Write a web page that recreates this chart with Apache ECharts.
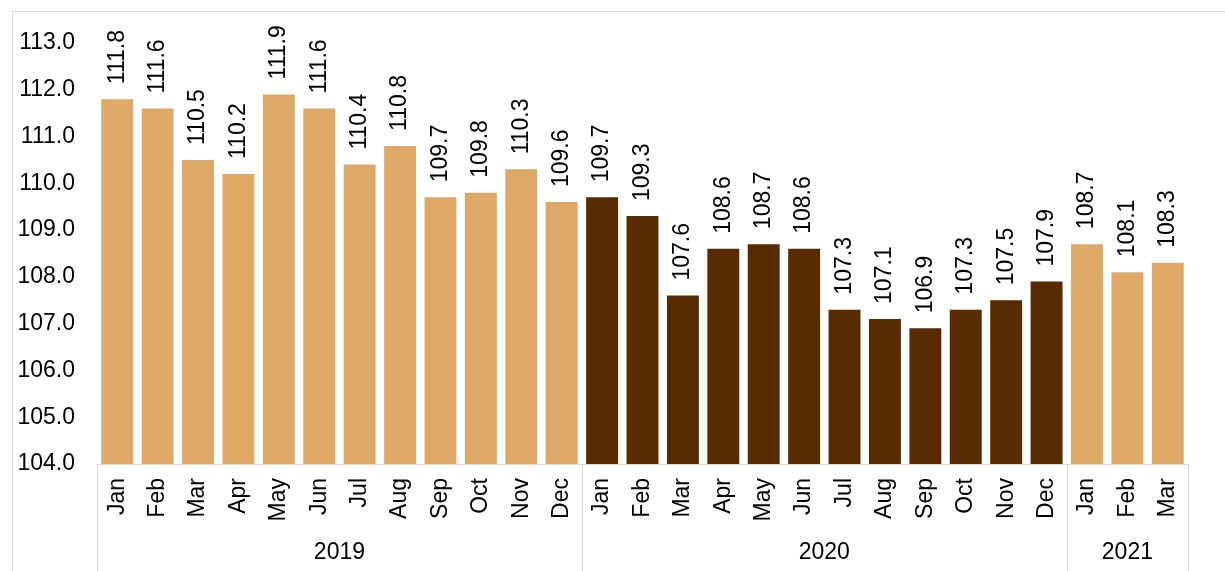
<!DOCTYPE html>
<html>
<head>
<meta charset="utf-8">
<script src="https://cdn.jsdelivr.net/npm/echarts@6/dist/echarts.min.js"></script>
<style>
  html, body { margin: 0; padding: 0; background: #fff; overflow: hidden; }
  .frame { position: absolute; left: 12px; top: 11px; width: 1400px; height: 800px; border: 1px solid #d9d9d9; }
  #chart { position: absolute; left: 0; top: 0; width: 1225px; height: 571px; }
</style>
</head>
<body>
<div class="frame"></div>
<div id="chart"></div>
<script>
  // months per year group
  const years = ['2019', '2020', '2021']
  const yearMonths = [
    ['Jan', 'Feb', 'Mar', 'Apr', 'May', 'Jun', 'Jul', 'Aug', 'Sep', 'Oct', 'Nov', 'Dec'],
    ['Jan', 'Feb', 'Mar', 'Apr', 'May', 'Jun', 'Jul', 'Aug', 'Sep', 'Oct', 'Nov', 'Dec'],
    ['Jan', 'Feb', 'Mar']
  ]
  const values2019 = [111.8, 111.6, 110.5, 110.2, 111.9, 111.6, 110.4, 110.8, 109.7, 109.8, 110.3, 109.6]
  const values2020 = [109.7, 109.3, 107.6, 108.6, 108.7, 108.6, 107.3, 107.1, 106.9, 107.3, 107.5, 107.9]
  const values2021 = [108.7, 108.1, 108.3]
  const yearColors = ['#DEA967', '#582C00', '#DEA967']

  const yearValues = [values2019, values2020, values2021]
  let categories = []
  let barData = []
  let bounds = [0]
  let centers = []
  yearMonths.forEach(function (ms, i) {
    const start = categories.length
    ms.forEach(function (m, j) {
      categories.push(m)
      barData.push({ value: yearValues[i][j], itemStyle: { color: yearColors[i] } })
    })
    bounds.push(categories.length)
    centers.push((start + categories.length) / 2)
  })

  let chart = echarts.init(document.getElementById('chart'))
  chart.setOption({
    animation: false,
    textStyle: { fontFamily: 'Liberation Sans, Arial, sans-serif' },
    grid: { left: 97, right: 37, top: 43, bottom: 107 },
    xAxis: [
      {
        type: 'category',
        data: categories,
        axisLine: { lineStyle: { color: '#d9d9d9', width: 1 } },
        axisTick: { show: false },
        axisLabel: { rotate: 90, margin: 14, fontSize: 23, color: '#000', interval: 0 }
      },
      {
        type: 'value',
        min: 0,
        max: categories.length,
        position: 'bottom',
        axisLine: { show: false },
        splitLine: { show: false },
        axisTick: {
          show: true,
          customValues: bounds,
          length: 107,
          lineStyle: { color: '#d9d9d9', width: 1 }
        },
        axisLabel: {
          customValues: centers,
          margin: 77,
          fontSize: 23,
          color: '#000',
          formatter: function (v) {
            return years[centers.indexOf(v)]
          }
        }
      }
    ],
    yAxis: {
      type: 'value',
      min: 104,
      max: 113,
      interval: 1,
      axisLine: { show: false },
      axisTick: { show: false },
      splitLine: { show: false },
      axisLabel: {
        margin: 22,
        fontSize: 23,
        color: '#000',
        formatter: function (val) {
          return val.toFixed(1)
        }
      }
    },
    series: [
      {
        type: 'bar',
        xAxisIndex: 0,
        data: barData,
        barCategoryGap: '21%',
        label: {
          show: true,
          position: 'top',
          rotate: 90,
          align: 'left',
          verticalAlign: 'middle',
          distance: 15,
          fontSize: 23,
          color: '#000',
          formatter: function (p) {
            return p.value.toFixed(1)
          }
        }
      }
    ]
  })
</script>
</body>
</html>
